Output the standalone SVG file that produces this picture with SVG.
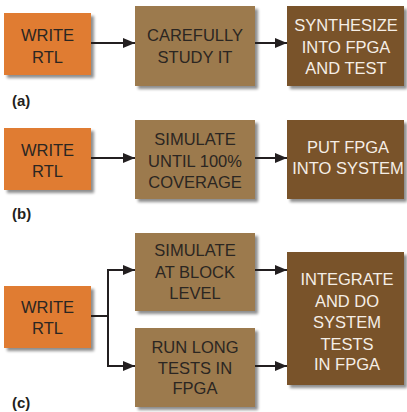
<svg xmlns="http://www.w3.org/2000/svg" width="407" height="412" viewBox="0 0 407 412">
  <defs>
    <filter id="shadow" x="-20%" y="-20%" width="150%" height="150%">
      <feGaussianBlur in="SourceAlpha" stdDeviation="1.6"/>
      <feOffset dx="3" dy="3" result="b"/>
      <feComponentTransfer><feFuncA type="linear" slope="0.45"/></feComponentTransfer>
      <feMerge><feMergeNode/><feMergeNode in="SourceGraphic"/></feMerge>
    </filter>
    <marker id="arrow" viewBox="0 0 12 10" refX="12" refY="5" markerWidth="12" markerHeight="10" markerUnits="userSpaceOnUse" orient="auto">
      <path d="M0,0 L12,5 L0,10 Z" fill="#231f20"/>
    </marker>
  </defs>
  <style>
    .orange { fill: #e07b31; filter: url(#shadow); }
    .tan { fill: #9c7a4e; filter: url(#shadow); }
    .brown { fill: #79522a; filter: url(#shadow); }
    text { font-family: "Liberation Sans", Arial, sans-serif; font-size: 16.5px; text-anchor: middle; }
    .dark { fill: #2b2622; }
    .light { fill: #f5eee6; }
    .label { font-size: 15px; font-weight: bold; text-anchor: start; fill: #231f20; }
    .conn { stroke: #231f20; stroke-width: 2; fill: none; }
  </style>

  <!-- Row (a) -->
  <g id="a-write">
    <rect class="orange" x="4" y="13" width="87" height="62"/>
    <text class="dark" x="47.5" y="41">WRITE</text>
    <text class="dark" x="47.5" y="63">RTL</text>
  </g>
  <g id="a-study">
    <rect class="tan" x="135" y="6" width="120" height="80"/>
    <text class="dark" x="195" y="41">CAREFULLY</text>
    <text class="dark" x="195" y="63">STUDY IT</text>
  </g>
  <g id="a-synth">
    <rect class="brown" x="287" y="6" width="117" height="80"/>
    <text class="light" x="346" y="31">SYNTHESIZE</text>
    <text class="light" x="346" y="53">INTO FPGA</text>
    <text class="light" x="346" y="74">AND TEST</text>
  </g>
  <text class="label" x="12" y="106">(a)</text>

  <!-- Row (b) -->
  <g id="b-write">
    <rect class="orange" x="4" y="128" width="87" height="62"/>
    <text class="dark" x="47.5" y="156">WRITE</text>
    <text class="dark" x="47.5" y="177">RTL</text>
  </g>
  <g id="b-simulate">
    <rect class="tan" x="135" y="120" width="120" height="79"/>
    <text class="dark" x="195" y="145">SIMULATE</text>
    <text class="dark" x="195" y="167">UNTIL 100%</text>
    <text class="dark" x="195" y="188">COVERAGE</text>
  </g>
  <g id="b-system">
    <rect class="brown" x="287" y="120" width="117" height="79"/>
    <text class="light" x="348" y="153">PUT FPGA</text>
    <text class="light" x="348" y="174">INTO SYSTEM</text>
  </g>
  <text class="label" x="12" y="219">(b)</text>

  <!-- Row (c) -->
  <g id="c-write">
    <rect class="orange" x="4" y="286" width="87" height="62"/>
    <text class="dark" x="47.5" y="313">WRITE</text>
    <text class="dark" x="47.5" y="334">RTL</text>
  </g>
  <g id="c-block">
    <rect class="tan" x="135" y="233" width="120" height="78"/>
    <text class="dark" x="195" y="256">SIMULATE</text>
    <text class="dark" x="195" y="278">AT BLOCK</text>
    <text class="dark" x="195" y="299">LEVEL</text>
  </g>
  <g id="c-long">
    <rect class="tan" x="135" y="328" width="120" height="79"/>
    <text class="dark" x="195" y="353">RUN LONG</text>
    <text class="dark" x="195" y="374">TESTS IN</text>
    <text class="dark" x="195" y="394">FPGA</text>
  </g>
  <g id="c-integrate">
    <rect class="brown" x="287" y="252" width="117" height="133"/>
    <text class="light" x="347" y="285">INTEGRATE</text>
    <text class="light" x="347" y="307">AND DO</text>
    <text class="light" x="347" y="328">SYSTEM</text>
    <text class="light" x="347" y="350">TESTS</text>
    <text class="light" x="347" y="370">IN FPGA</text>
  </g>
  <text class="label" x="12" y="408">(c)</text>

  <!-- Connectors -->
  <g id="connectors">
    <line class="conn" x1="91" y1="43" x2="135" y2="43" marker-end="url(#arrow)"/>
    <line class="conn" x1="255" y1="43" x2="287" y2="43" marker-end="url(#arrow)"/>
    <line class="conn" x1="91" y1="158" x2="135" y2="158" marker-end="url(#arrow)"/>
    <line class="conn" x1="255" y1="158" x2="287" y2="158" marker-end="url(#arrow)"/>
    <line class="conn" x1="91" y1="316" x2="108" y2="316"/>
    <path class="conn" d="M108,270 L108,366"/>
    <line class="conn" x1="107" y1="270" x2="135" y2="270" marker-end="url(#arrow)"/>
    <line class="conn" x1="107" y1="366" x2="135" y2="366" marker-end="url(#arrow)"/>
    <line class="conn" x1="255" y1="270" x2="287" y2="270" marker-end="url(#arrow)"/>
    <line class="conn" x1="255" y1="366" x2="287" y2="366" marker-end="url(#arrow)"/>
  </g>
</svg>
